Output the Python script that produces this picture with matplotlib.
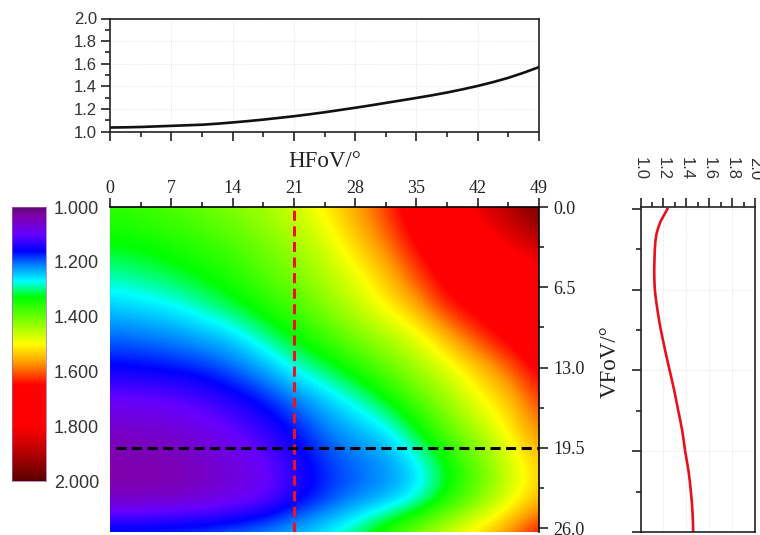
import numpy as np
import matplotlib
matplotlib.use("Agg")
import matplotlib.pyplot as plt
from matplotlib.colors import LinearSegmentedColormap, Normalize
from matplotlib.ticker import MultipleLocator, FixedLocator, FormatStrFormatter

W, H = 760, 535
SERIF = "Liberation Serif"
SANS = "Liberation Sans"

hfov_profile = [0, 1.75, 3.5, 5.25, 7, 8.75, 10.5, 12.25, 14, 15.75, 17.5, 19.25, 21, 22.75, 24.5, 26.25,
                28, 29.75, 31.5, 33.25, 35, 36.75, 38.5, 40.25, 42, 43.75, 45.5, 47.25, 49]
value_profile_h = [1.035, 1.037, 1.04, 1.045, 1.05, 1.055, 1.06, 1.069, 1.08, 1.092, 1.105, 1.12, 1.135, 1.152,
                   1.17, 1.19, 1.21, 1.231, 1.253, 1.275, 1.297, 1.32, 1.345, 1.373, 1.403, 1.437, 1.475, 1.52, 1.57]

vfov_profile = [0, 0.5, 1, 1.5, 2, 2.6, 3.25, 4.05, 4.875, 5.7, 6.5, 7.3, 8.125, 8.95, 9.75, 10.55, 11.375, 12.2,
                13, 13.8, 14.625, 15.45, 16.25, 17.05, 17.875, 18.7, 19.5, 20.3, 21.125, 21.95, 22.75, 23.55, 24.375,
                25.2, 26]
value_profile_v = [1.235, 1.205, 1.175, 1.155, 1.14, 1.13, 1.125, 1.122, 1.12, 1.121, 1.125, 1.135, 1.148, 1.162,
                   1.178, 1.196, 1.215, 1.235, 1.255, 1.275, 1.295, 1.313, 1.33, 1.348, 1.365, 1.378, 1.39, 1.405,
                   1.42, 1.431, 1.44, 1.448, 1.454, 1.458, 1.46]

# Rows run from VFoV 0 to 26.3, columns from HFoV 0 to 49
field = [
    [1.36, 1.37, 1.385, 1.40, 1.42, 1.44, 1.47, 1.51, 1.56, 1.62, 1.69, 1.74, 1.84, 1.90, 1.98],
    [1.335, 1.34, 1.35, 1.365, 1.385, 1.41, 1.44, 1.475, 1.535, 1.59, 1.66, 1.70, 1.76, 1.83, 1.90],
    [1.295, 1.305, 1.32, 1.335, 1.355, 1.385, 1.415, 1.45, 1.49, 1.545, 1.62, 1.675, 1.69, 1.72, 1.78],
    [1.25, 1.26, 1.27, 1.295, 1.32, 1.35, 1.38, 1.42, 1.46, 1.505, 1.56, 1.645, 1.67, 1.69, 1.72],
    [1.20, 1.205, 1.215, 1.23, 1.25, 1.295, 1.33, 1.37, 1.41, 1.445, 1.48, 1.55, 1.62, 1.67, 1.70],
    [1.155, 1.16, 1.165, 1.175, 1.195, 1.225, 1.275, 1.305, 1.345, 1.39, 1.435, 1.475, 1.53, 1.59, 1.67],
    [1.09, 1.095, 1.10, 1.115, 1.14, 1.165, 1.20, 1.24, 1.275, 1.32, 1.38, 1.43, 1.49, 1.53, 1.62],
    [1.05, 1.055, 1.06, 1.075, 1.095, 1.125, 1.16, 1.20, 1.23, 1.25, 1.315, 1.385, 1.44, 1.50, 1.58],
    [1.03, 1.03, 1.035, 1.05, 1.07, 1.09, 1.135, 1.175, 1.195, 1.215, 1.25, 1.32, 1.39, 1.46, 1.53],
    [1.04, 1.04, 1.045, 1.055, 1.07, 1.09, 1.14, 1.175, 1.205, 1.225, 1.26, 1.335, 1.40, 1.47, 1.54],
    [1.19, 1.19, 1.195, 1.20, 1.21, 1.225, 1.245, 1.27, 1.31, 1.37, 1.43, 1.48, 1.53, 1.58, 1.66],
]

cmap_levels = [1.0, 1.03, 1.10, 1.16, 1.21, 1.27, 1.33, 1.50, 1.57, 1.65, 1.80, 1.87, 2.0]
cmap_colors = ["#5e0a70", "#8000a8", "#6600ff", "#0000ff", "#0080ff", "#00ffff", "#00ff00",
               "#ffff00", "#ff9900", "#ff0000", "#ff0000", "#cc0000", "#5a0000"]
hfov_ticks = [0, 7, 14, 21, 28, 35, 42, 49]
vfov_ticks = [0, 6.5, 13, 19.5, 26]
vfov_labels = ["0.0", "6.5", "13.0", "19.5", "26.0"]
cbar_ticks = [1.0, 1.2, 1.4, 1.6, 1.8, 2.0]
cut_hfov = 21
cut_vfov = 19.5

def axes_px(fig, x0, y0, x1, y1):
    return fig.add_axes([x0 / W, 1 - y1 / H, (x1 - x0) / W, (y1 - y0) / H])

cmap = LinearSegmentedColormap.from_list(
    "rainbow_ref", [((v - 1.0), c) for v, c in zip(cmap_levels, cmap_colors)], N=512)
norm = Normalize(1.0, 2.0)

fig = plt.figure(figsize=(W / 100, H / 100), dpi=100)
INK = "#222222"
GRID = dict(color="#dedede", lw=0.6, ls=(0, (1, 1.5)))
DASH = (0, (3.3, 1.8))

# Top profile
ax_t = axes_px(fig, 110, 18.5, 539, 131.5)
ax_t.plot(hfov_profile, value_profile_h, color="#111111", lw=1.9)
ax_t.set_xlim(0, 49)
ax_t.set_ylim(1.0, 2.0)
ax_t.xaxis.set_major_locator(FixedLocator(hfov_ticks))
ax_t.xaxis.set_minor_locator(MultipleLocator(3.5))
ax_t.yaxis.set_major_locator(MultipleLocator(0.2))
ax_t.yaxis.set_minor_locator(MultipleLocator(0.1))
ax_t.yaxis.set_major_formatter(FormatStrFormatter("%.1f"))
ax_t.tick_params(axis="x", which="both", labelbottom=False)
ax_t.tick_params(which="major", length=6.5, width=1.2, color=INK)
ax_t.tick_params(which="minor", length=3.5, width=1.2, color=INK)
ax_t.tick_params(axis="y", labelsize=12, pad=3, labelcolor="#333333")
for lab in ax_t.get_yticklabels():
    lab.set_family(SANS)
ax_t.grid(True, which="major", **GRID)
ax_t.set_axisbelow(True)
for s in ax_t.spines.values():
    s.set_linewidth(1.2)
    s.set_color(INK)
fig.text(325 / W, 1 - 161 / H, "HFoV/°", family=SERIF, fontsize=16.5, ha="center", va="center", color="#222222")

# Main map
ax_m = axes_px(fig, 110, 207, 539, 532)
dx = 3.5 / 2
dy = 2.63 / 2
ax_m.imshow(np.array(field), cmap=cmap, norm=norm, aspect="auto", interpolation="bicubic",
            interpolation_stage="data", extent=(-dx, 49 + dx, 26.3 + dy, -dy))
ax_m.set_xlim(0, 49)
ax_m.set_ylim(26.3, 0)
ax_m.xaxis.tick_top()
ax_m.yaxis.tick_right()
ax_m.xaxis.set_major_locator(FixedLocator(hfov_ticks))
ax_m.xaxis.set_minor_locator(MultipleLocator(3.5))
ax_m.yaxis.set_major_locator(FixedLocator(vfov_ticks))
ax_m.yaxis.set_major_formatter(plt.FixedFormatter(vfov_labels))
ax_m.yaxis.set_minor_locator(MultipleLocator(3.25))
ax_m.tick_params(which="major", length=6.5, width=1.2, color=INK)
ax_m.tick_params(which="minor", length=3.5, width=1.2, color=INK)
ax_m.tick_params(axis="x", labelsize=13, pad=1, labelcolor="#222222")
ax_m.tick_params(axis="y", labelsize=13, pad=4, labelcolor="#222222")
for lab in ax_m.get_xticklabels() + ax_m.get_yticklabels():
    lab.set_family(SERIF)
ax_m.spines["left"].set_visible(False)
ax_m.spines["bottom"].set_visible(False)
ax_m.spines["top"].set_linewidth(1.2)
ax_m.spines["right"].set_linewidth(1.2)
ax_m.axvline(cut_hfov, color="#f01020", lw=2.2, ls=DASH)
ax_m.plot([0.7, 49], [cut_vfov, cut_vfov], color="black", lw=2.2, ls=DASH)

# Right profile
ax_r = axes_px(fig, 640.5, 207, 755, 532)
ax_r.plot(value_profile_v, vfov_profile, color="#e8101c", lw=1.9)
ax_r.set_xlim(1.0, 2.0)
ax_r.set_ylim(26, -0.16)
ax_r.xaxis.tick_top()
ax_r.xaxis.set_major_locator(MultipleLocator(0.2))
ax_r.xaxis.set_minor_locator(MultipleLocator(0.1))
ax_r.xaxis.set_major_formatter(FormatStrFormatter("%.1f"))
ax_r.yaxis.set_major_locator(FixedLocator(vfov_ticks))
ax_r.yaxis.set_minor_locator(MultipleLocator(3.25))
ax_r.tick_params(axis="y", which="both", labelleft=False)
ax_r.tick_params(which="major", length=6.5, width=1.2, color=INK)
ax_r.tick_params(which="minor", length=3.5, width=1.2, color=INK)
ax_r.tick_params(axis="x", labelsize=12, pad=13, labelcolor="#333333")
for lab in ax_r.get_xticklabels():
    lab.set_family(SANS)
    lab.set_rotation(-90)
    lab.set_ha("center")
    lab.set_va("bottom")
ax_r.grid(True, which="major", **GRID)
ax_r.set_axisbelow(True)
for s in ax_r.spines.values():
    s.set_linewidth(1.2)
    s.set_color(INK)
fig.text(610 / W, 1 - 362 / H, "VFoV/°", family=SERIF, fontsize=16.5, rotation=90,
         ha="center", va="center", color="#222222")

# Colour scale
ax_c = axes_px(fig, 12, 207, 46, 481)
gradient = np.linspace(1.0, 2.0, 512).reshape(-1, 1)
ax_c.imshow(gradient, cmap=cmap, norm=norm, aspect="auto", extent=(0, 1, 2.0, 1.0))
ax_c.set_xticks([])
ax_c.yaxis.tick_right()
ax_c.yaxis.set_major_locator(FixedLocator(cbar_ticks))
ax_c.yaxis.set_major_formatter(FormatStrFormatter("%.3f"))
ax_c.tick_params(axis="y", length=0, labelsize=13, pad=5.5, labelcolor="#333333")
for lab in ax_c.get_yticklabels():
    lab.set_family(SANS)
for s in ax_c.spines.values():
    s.set_linewidth(0.5)
    s.set_color("#a060b0")

fig.savefig("out.png", dpi=100)
